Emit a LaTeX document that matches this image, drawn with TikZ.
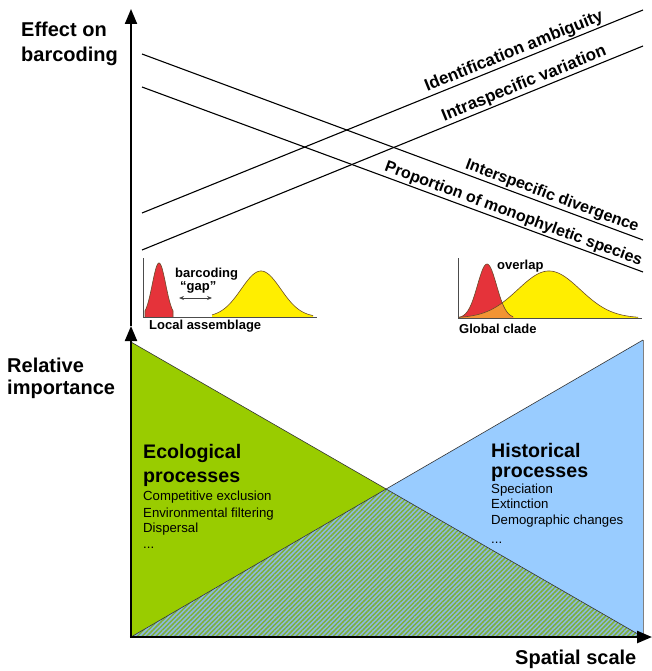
\documentclass[tikz,border=0pt]{standalone}
\usepackage{fontspec}
\setmainfont{Liberation Sans}
\usetikzlibrary{arrows.meta,patterns.meta}
\definecolor{egreen}{HTML}{99CC00}
\definecolor{hblue}{HTML}{99CCFF}
\definecolor{stripeblue}{HTML}{8DBADF}
\definecolor{stripegreen}{HTML}{7DAF3A}
\definecolor{cred}{HTML}{E5333A}
\definecolor{cyellow}{HTML}{FFEE00}
\definecolor{corange}{HTML}{F29433}
\definecolor{coutline}{HTML}{6A4A2A}
\newcommand\setfs[2]{\fontsize{#1}{#2}\selectfont}
\begin{document}
\begin{tikzpicture}[x=1pt,y=-1pt,
  axis/.style={line width=2pt,-{Triangle[length=15pt,width=12pt]}},
  trend/.style={line width=1.1pt,black},
  trendlabel/.style={sloped,above,inner sep=1.2pt,font=\setfs{17}{19}\bfseries},
  trendlabelb/.style={sloped,above,inner sep=1.2pt,font=\setfs{16}{18}\bfseries},
  axislabel/.style={anchor=base west,inner sep=0pt,font=\setfs{20}{24}\bfseries},
  insetaxis/.style={line width=0.8pt,black!70},
  curve/.style={line width=0.6pt,coutline},
  insettext/.style={anchor=base west,inner sep=0pt,font=\setfs{13}{15}\bfseries},
  headtext/.style={anchor=base west,inner sep=0pt,font=\setfs{19.6}{22}\bfseries},
  listtext/.style={anchor=base west,inner sep=0pt,font=\setfs{13.2}{15}},
  edge/.style={line width=0.6pt,black!80}]
\useasboundingbox (0,0) rectangle (652,671);

% ---------- lower panel: triangles ----------
\coordinate (O) at (131,637);
\coordinate (GT) at (131,342);
\coordinate (BR) at (643,637);
\coordinate (BT) at (643,340);
\coordinate (X) at (intersection of GT--BR and BT--O);
\fill[egreen] (GT) -- (O) -- (BR) -- cycle;
\fill[hblue] (BT) -- (BR) -- (O) -- cycle;
\fill[stripeblue] (O) -- (X) -- (BR) -- cycle;
\fill[pattern={Lines[angle=45,distance=3.3pt,line width=1.5pt]},pattern color=stripegreen] (O) -- (X) -- (BR) -- cycle;
\draw[edge] (GT) -- (BR);
\draw[edge] (BT) -- (O);
\draw[line width=0.6pt,black!50] (BT) -- (BR);

% ---------- axes ----------
\coordinate (Ymid) at (131,326);
\coordinate (Ytop) at (131,9);
\coordinate (Xend) at (652,637);
\coordinate (Obot) at (129.8,637);
\draw[axis] (O) -- (Ymid);
\draw[axis] (Ymid) -- (Ytop);
\draw[axis,line width=2.4pt] (Obot) -- (Xend);

% ---------- trend lines ----------
\coordinate (A1) at (142,213);
\coordinate (A2) at (643,10);
\coordinate (B1) at (142,250);
\coordinate (B2) at (643,46);
\coordinate (C1) at (142,54);
\coordinate (C2) at (643,240);
\coordinate (D1) at (142,87);
\coordinate (D2) at (643,272);
\draw[trend] (A1) -- (A2) node[trendlabel,pos=0.75] (la) {Identification ambiguity};
\draw[trend] (B1) -- (B2) node[trendlabel,pos=0.77] (lb) {Intraspecific variation};
\draw[trend] (C1) -- (C2) node[trendlabelb,pos=0.812] (lc) {Interspecific divergence};
\draw[trend] (D1) -- (D2) node[trendlabelb,pos=0.735] (ld) {Proportion of monophyletic species};

% ---------- local assemblage inset ----------
\coordinate (LA0) at (143,317);
\coordinate (LAt) at (143,258);
\coordinate (LAr) at (317,317);
\fill[cred] (145,317) -- plot[domain=145:173,samples=50] (\x,{317-54*exp(-((\x-159)/9.5)^2)}) -- (173,317) -- cycle;
\fill[cyellow] (212,317) -- plot[domain=212:313,samples=80] (\x,{317-46*exp(-((\x-261)/28)^2)}) -- (313,317) -- cycle;
\draw[curve] (145,317) -- plot[domain=145:173,samples=50] (\x,{317-54*exp(-((\x-159)/9.5)^2)}) -- (173,317);
\draw[curve] plot[domain=212:313,samples=80] (\x,{317-46*exp(-((\x-261)/28)^2)});
\draw[insetaxis] (LAt) -- (LA0) -- (LAr);
\coordinate (G1) at (179,298);
\coordinate (G2) at (212,298);
\draw[line width=0.8pt,black!75,{Stealth[length=5pt,width=4pt]}-{Stealth[length=5pt,width=4pt]}] (G1) -- (G2);
\node[insettext] (tbc) at (175,277) {barcoding};
\node[insettext] (tgap) at (180,290) {“gap”};
\node[insettext] (tloc) at (149,329) {Local assemblage};

% ---------- global clade inset ----------
\coordinate (GC0) at (458,318);
\coordinate (GCt) at (458,258);
\coordinate (GCr) at (642,318);
\fill[cyellow] (459,318) -- plot[domain=459:638,samples=100] (\x,{318-47*exp(-((\x-549)/44)^2)}) -- (638,318) -- cycle;
\fill[cred] (459,318) -- plot[domain=459:513,samples=60] (\x,{318-54*exp(-((\x-487)/13.5)^2)}) -- (513,318) -- cycle;
\begin{scope}
  \clip (459,318) -- plot[domain=459:638,samples=100] (\x,{318-47*exp(-((\x-549)/44)^2)}) -- (638,318) -- cycle;
  \fill[corange] (459,318) -- plot[domain=459:513,samples=60] (\x,{318-54*exp(-((\x-487)/13.5)^2)}) -- (513,318) -- cycle;
\end{scope}
\draw[curve] plot[domain=459:638,samples=100] (\x,{318-47*exp(-((\x-549)/44)^2)});
\draw[curve] plot[domain=459:513,samples=60] (\x,{318-54*exp(-((\x-487)/13.5)^2)});
\draw[insetaxis] (GCt) -- (GC0) -- (GCr);
\node[insettext] (tov) at (497,269) {overlap};
\node[insettext] (tgl) at (459,333) {Global clade};

% ---------- axis labels ----------
\node[axislabel] (ey1) at (21,37) {Effect on};
\node[axislabel] (ey2) at (21,62) {barcoding};
\node[axislabel] (ry1) at (7,372) {Relative};
\node[axislabel] (ry2) at (7,394) {importance};
\node[axislabel] (sx) at (515,664) {Spatial scale};

% ---------- process texts ----------
\node[headtext] (e1) at (143,458) {Ecological};
\node[headtext] (e2) at (143,482) {processes};
\node[listtext] (e3) at (143,500) {Competitive exclusion};
\node[listtext] (e4) at (143,517) {Environmental filtering};
\node[listtext] (e5) at (143,532) {Dispersal};
\node[listtext] (e6) at (143,548) {...};

\node[headtext] (h1) at (491,457) {Historical};
\node[headtext] (h2) at (491,477) {processes};
\node[listtext] (h3) at (491,493) {Speciation};
\node[listtext] (h4) at (491,508) {Extinction};
\node[listtext] (h5) at (491,524) {Demographic changes};
\node[listtext] (h6) at (491,543) {...};
\end{tikzpicture}
\end{document}
